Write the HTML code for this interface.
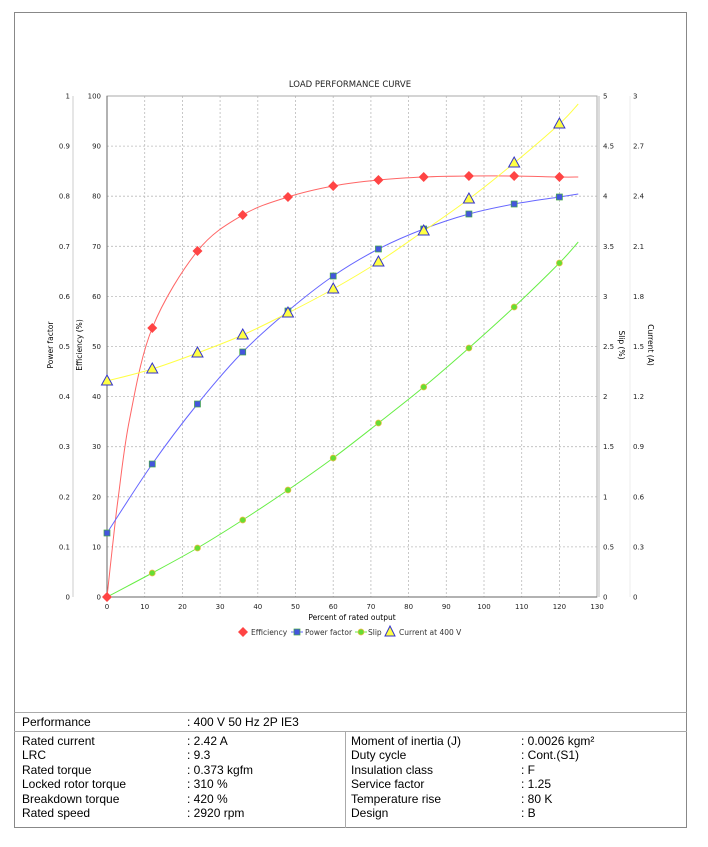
<!DOCTYPE html>
<html><head><meta charset="utf-8"><style>
body{margin:0;background:#fff;width:708px;height:847px;overflow:hidden;font-family:"Liberation Sans",sans-serif}
.t{position:absolute;font-size:12px;color:#000;white-space:nowrap}
</style></head><body>
<div style="position:absolute;left:14px;top:12px;width:673px;height:816px;border:1px solid #888;box-sizing:border-box"></div>
<svg id="s" width="708" height="847" style="position:absolute;left:0;top:0" font-family="DejaVu Sans, sans-serif">
<text x="350" y="87" font-size="8.5" text-anchor="middle" fill="#222">LOAD PERFORMANCE CURVE</text>
<g id="grid"></g>
<rect x="107" y="96" width="490" height="501" fill="none" stroke="#aaa" stroke-width="1"/>
<line x1="107" y1="96" x2="107" y2="597" stroke="#666"/>
<line x1="107" y1="597" x2="597" y2="597" stroke="#666"/>
<line x1="73" y1="96" x2="73" y2="597" stroke="#ccc"/>
<line x1="599" y1="96" x2="599" y2="597" stroke="#bbb"/>
<line x1="630" y1="96" x2="630" y2="597" stroke="#eee"/>
<g id="lab" font-size="7" fill="#222"></g>
<text transform="translate(53,345) rotate(-90)" font-size="7.5" text-anchor="middle">Power factor</text>
<text transform="translate(82,345) rotate(-90)" font-size="7.5" text-anchor="middle">Efficiency (%)</text>
<text transform="translate(619,345) rotate(90)" font-size="7.5" text-anchor="middle">Slip (%)</text>
<text transform="translate(648,345) rotate(90)" font-size="7.5" text-anchor="middle">Current (A)</text>
<text x="352" y="620" font-size="7.5" text-anchor="middle">Percent of rated output</text>
<g id="ser"></g>
<g font-size="7.5" fill="#333">
<path d="M243 627 l5 5 -5 5 -5 -5z" fill="#f44"/><text x="251" y="635">Efficiency</text>
<line x1="291" y1="632" x2="303" y2="632" stroke="#66f"/><rect x="294" y="629" width="6" height="6" fill="#45d" stroke="#4a4" stroke-width=".7"/><text x="305" y="635">Power factor</text>
<line x1="355" y1="632" x2="367" y2="632" stroke="#6e4"/><circle cx="361" cy="632" r="3" fill="#6d3" stroke="#eb4" stroke-width=".7"/><text x="368" y="635">Slip</text>
<path d="M390 626 l5 10 h-10z" fill="#ff4" stroke="#33c"/><text x="399" y="635">Current at 400 V</text>
</g>
</svg>
<div style="position:absolute;left:14px;top:712px;width:673px;height:116px;border:1px solid #888;border-top-color:#aaa;box-sizing:border-box"></div>
<div style="position:absolute;left:14px;top:731px;width:673px;border-top:1px solid #aaa"></div>
<div style="position:absolute;left:345px;top:731px;height:97px;border-left:1px solid #aaa"></div>
<div class="t" style="left:22px;top:715px">Performance</div><div class="t" style="left:187px;top:715px">: 400 V 50 Hz 2P IE3</div>
<div class="t" style="left:22px;top:734px;line-height:14.4px">Rated current<br>LRC<br>Rated torque<br>Locked rotor torque<br>Breakdown torque<br>Rated speed</div>
<div class="t" style="left:187px;top:734px;line-height:14.4px">: 2.42 A<br>: 9.3<br>: 0.373 kgfm<br>: 310 %<br>: 420 %<br>: 2920 rpm</div>
<div class="t" style="left:351px;top:734px;line-height:14.4px">Moment of inertia (J)<br>Duty cycle<br>Insulation class<br>Service factor<br>Temperature rise<br>Design</div>
<div class="t" style="left:521px;top:734px;line-height:14.4px">: 0.0026 kgm²<br>: Cont.(S1)<br>: F<br>: 1.25<br>: 80 K<br>: B</div>
<script>
var NS="http://www.w3.org/2000/svg";
function el(p,t,a,txt){var e=document.createElementNS(NS,t);for(var k in a)e.setAttribute(k,a[k]);if(txt!=null)e.textContent=txt;document.getElementById(p).appendChild(e);return e;}
var X=function(p){return 107+p*3.77};
for(var i=1;i<=12;i++)el("grid","line",{x1:X(i*10),y1:96,x2:X(i*10),y2:597,stroke:"#bbb","stroke-dasharray":"2,2","stroke-width":.8});
for(var j=1;j<10;j++){var y=597-j*50.1;el("grid","line",{x1:107,y1:y,x2:597,y2:y,stroke:"#bbb","stroke-dasharray":"2,2","stroke-width":.8});}
for(var j=0;j<=10;j++){var y=597-j*50.1+2.5;
el("lab","text",{x:70,y:y,"text-anchor":"end"},j==0?"0":j==10?"1":(j/10).toFixed(1));
el("lab","text",{x:101,y:y,"text-anchor":"end"},String(j*10));
el("lab","text",{x:603,y:y},j%2==0?String(j/2):(j/2).toFixed(1));
var c=(j*0.3);el("lab","text",{x:633,y:y},j==0?"0":j==10?"3":c.toFixed(1).replace(/\.0$/,""));}
for(var i=0;i<=13;i++)el("lab","text",{x:X(i*10),y:609,"text-anchor":"middle"},String(i*10));
function path(pts){var d="M"+pts[0][0]+" "+pts[0][1];for(var i=0;i<pts.length-1;i++){var p0=pts[Math.max(0,i-1)],p1=pts[i],p2=pts[i+1],p3=pts[Math.min(pts.length-1,i+2)];
d+=" C"+(p1[0]+(p2[0]-p0[0])/6)+" "+(p1[1]+(p2[1]-p0[1])/6)+" "+(p2[0]-(p3[0]-p1[0])/6)+" "+(p2[1]-(p3[1]-p1[1])/6)+" "+p2[0]+" "+p2[1];}return d;}
var P=[0,12,24,36,48,60,72,84,96,108,120];
var eff=[597,328,251,215,197,186,180,177,176,176,177],pf=[533,464,404,352,311,276,249,229,214,204,197],
sl=[597,573,548,520,490,458,423,387,348,307,263],cu=[381,369,353,335,313,289,262,231,199,163,124];
function pts(a,end){var r=P.map(function(p,i){return[X(p),a[i]]});r.push([X(125),end]);return r;}
var ep=pts(eff,177);ep.splice(1,0,[X(1.5),545],[X(3),497],[X(6),419]);
el("ser","path",{d:path(ep),fill:"none",stroke:"#f66","stroke-width":1});
el("ser","path",{d:path(pts(pf,194)),fill:"none",stroke:"#66f","stroke-width":1});
el("ser","path",{d:path(pts(sl,242)),fill:"none",stroke:"#6e4","stroke-width":1});
el("ser","path",{d:path(pts(cu,104)),fill:"none",stroke:"#ff4","stroke-width":1});
P.forEach(function(p,i){var x=X(p);
el("ser","circle",{cx:x,cy:sl[i],r:3,fill:"#6d3",stroke:"#eb4","stroke-width":.7});
el("ser","rect",{x:x-3,y:pf[i]-3,width:6,height:6,fill:"#45d",stroke:"#4a4","stroke-width":.7});
el("ser","path",{d:"M"+x+" "+(cu[i]-6)+" l5.5 10 h-11z",fill:"#ff4",stroke:"#33c"});
el("ser","path",{d:"M"+x+" "+(eff[i]-5)+" l5 5 -5 5 -5 -5z",fill:"#f44"});});
</script>
</body></html>
